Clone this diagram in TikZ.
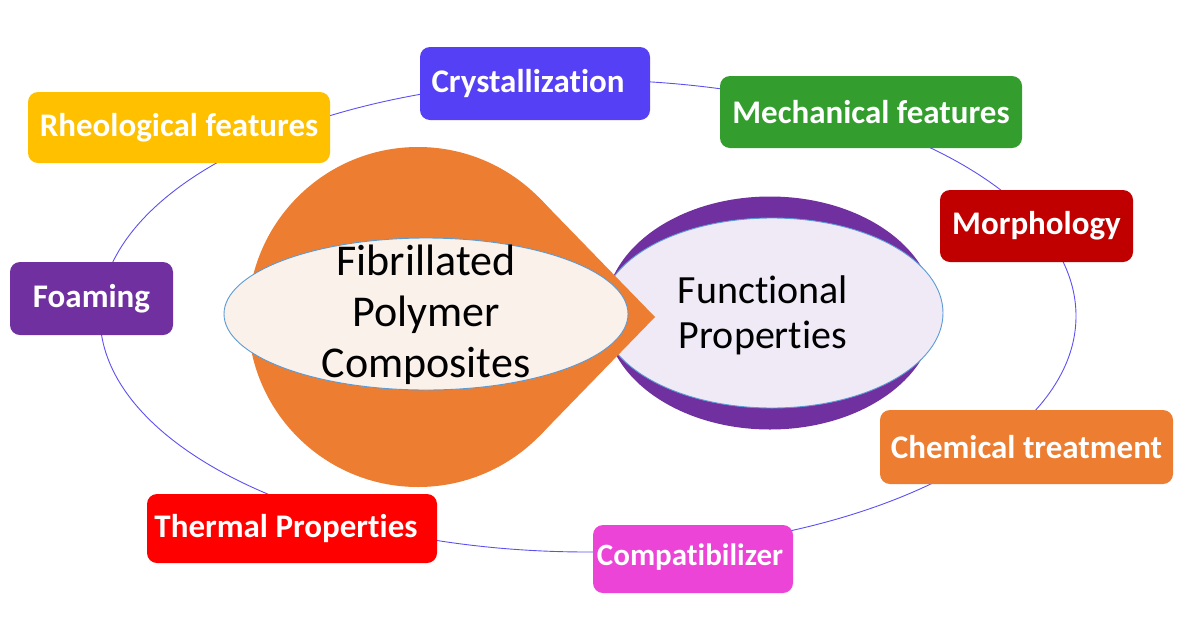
\documentclass[tikz,border=0pt]{standalone}
\usepackage{fontspec}
\setmainfont[Ligatures={NoCommon}]{Carlito}
\usetikzlibrary{shapes.geometric}
\definecolor{ringc}{RGB}{92,80,240}
\definecolor{crys}{RGB}{86,64,245}
\definecolor{rheo}{RGB}{255,192,0}
\definecolor{mech}{RGB}{51,158,46}
\definecolor{morph}{RGB}{192,0,0}
\definecolor{foam}{RGB}{112,48,160}
\definecolor{chem}{RGB}{237,125,49}
\definecolor{therm}{RGB}{255,0,0}
\definecolor{compat}{RGB}{235,68,215}
\definecolor{peach}{RGB}{251,241,235}
\definecolor{lav}{RGB}{240,234,247}
\definecolor{edgeblue}{RGB}{91,155,213}
\tikzset{
  topic/.style={draw=none, fill=#1, rounded corners=10pt, text=white,
    font=\fontsize{33}{38}\selectfont\bfseries, inner sep=0pt, align=center},
  core/.style={ellipse, draw=edgeblue, line width=0.9pt, inner sep=0pt,
    text=black, align=center},
}
\begin{document}
\begin{tikzpicture}[x=1pt,y=-1pt]
\useasboundingbox (0,0) rectangle (1200,630);
% outer ring
\node[ellipse, draw=ringc, line width=0.9pt, minimum width=976pt, minimum height=472pt, inner sep=0pt] (ring) at (588,316) {};
% purple and lavender ellipse
\node[ellipse, fill=foam, minimum width=330pt, minimum height=233pt, inner sep=0pt] (purp) at (770,313) {};
\node[core, fill=lav, minimum width=342pt, minimum height=190pt] (func) at (772,313) {};
% orange teardrop
\fill[chem] (418,317) circle[radius=170];
\fill[chem] (655,317) -- (538.2,196.8) -- (418,317) -- (538.2,437.2) -- cycle;
\coordinate (tip) at (655,317);
% peach ellipse
\node[core, fill=peach, minimum width=404pt, minimum height=152pt] (fib) at (426,314) {};
\node[font=\fontsize{44}{51}\selectfont, align=center] (fibt) at (426,315) {Fibrillated\\Polymer\\Composites};
\node[font=\fontsize{40}{45}\selectfont, align=center] (funct) at (763,315) {Functional\\Properties};
% topic boxes
\node[topic=crys, minimum width=230pt, minimum height=73pt] (crystal) at (535,83.5) {\raisebox{-2pt}{\hspace*{-14pt}Crystallization}};
\node[topic=rheo, minimum width=302pt, minimum height=71pt] (rheol) at (179,127.5) {\raisebox{-2pt}{Rheological features}};
\node[topic=mech, minimum width=302pt, minimum height=72pt] (mechan) at (871,112) {Mechanical features};
\node[topic=morph, minimum width=193pt, minimum height=72pt] (morpho) at (1036.5,226) {Morphology};
\node[topic=foam, minimum width=163pt, minimum height=73pt] (foaming) at (91.5,298.5) {Foaming};
\node[topic=chem, minimum width=293pt, minimum height=74pt] (chemical) at (1026.5,447) {Chemical treatment};
\node[topic=therm, minimum width=290pt, minimum height=69pt] (thermal) at (292,528.5) {\hspace*{-12pt}Thermal Properties};
\node[topic=compat, minimum width=200pt, minimum height=68pt, font=\fontsize{31}{36}\selectfont\bfseries] (compati) at (693,559) {\raisebox{8pt}{\hspace*{-6pt}Compatibilizer}};
\end{tikzpicture}
\end{document}
